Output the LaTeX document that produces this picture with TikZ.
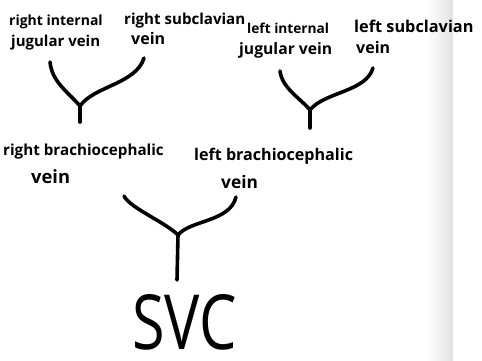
\documentclass[tikz,border=0pt]{standalone}
\usepackage{fontspec}
\setmainfont{Open Sans}
\begin{document}
\begin{tikzpicture}[x=1pt,y=-1pt,
  lbl/.style={inner sep=0pt, anchor=base west, font=\fontsize{#1}{#1}\selectfont\bfseries},
  vessel/.style={line width=3.6pt, line cap=round, line join=round}]
\useasboundingbox (0,0) rectangle (482,361);
\shade[left color=white, right color=black!11] (426,0) rectangle (453,361);

% top labels
\node[lbl=14]   (rij1) at (9,26)   {right internal};
\node[lbl=15]   (rij2) at (11,47)  {jugular vein};
\node[lbl=15.1] (rsv1) at (124,25) {right subclavian};
\node[lbl=16]   (rsv2) at (131,45) {vein};
\node[lbl=13.7] (lij1) at (247,34) {left internal};
\node[lbl=15.7] (lij2) at (239,55) {jugular vein};
\node[lbl=16.3] (lsv1) at (354,33) {left subclavian};
\node[lbl=16]   (lsv2) at (356,54) {vein};

% middle labels
\node[lbl=15.2] (rbc1) at (3,155)   {right brachiocephalic};
\node[lbl=18.3] (rbc2) at (31,183)  {vein};
\node[lbl=16.1] (lbc1) at (194,160) {left brachiocephalic};
\node[lbl=17.3] (lbc2) at (221,188) {vein};

% bottom
\node[inner sep=0pt, anchor=base west] (svc) at (132,349)
  {\scalebox{0.78}[1]{\fontsize{76}{76}\selectfont SVC}};

% bracket 1
\coordinate (a1) at (50,62);
\coordinate (b1) at (144,58);
\coordinate (j1) at (80,106);
\coordinate (s1) at (80,122);
\draw[vessel] (a1) .. controls (52,82) and (68,92) .. (j1);
\draw[vessel] (b1) .. controls (136,84) and (94,86) .. (j1);
\draw[vessel] (j1) -- (s1);

% bracket 2
\coordinate (a2) at (280,71);
\coordinate (b2) at (373,68);
\coordinate (j2) at (310,110);
\coordinate (s2) at (310,128);
\draw[vessel] (a2) .. controls (282,88) and (300,98) .. (j2);
\draw[vessel] (b2) .. controls (366,92) and (324,92) .. (j2);
\draw[vessel] (j2) -- (s2);

% bracket 3
\coordinate (a3) at (124,196);
\coordinate (b3) at (236,197);
\coordinate (j3) at (178,235);
\coordinate (s3) at (177,280);
\draw[vessel] (a3) .. controls (130,208) and (165,222) .. (j3);
\draw[vessel] (b3) .. controls (230,222) and (190,220) .. (j3);
\draw[vessel] (j3) -- (s3);
\end{tikzpicture}
\end{document}
